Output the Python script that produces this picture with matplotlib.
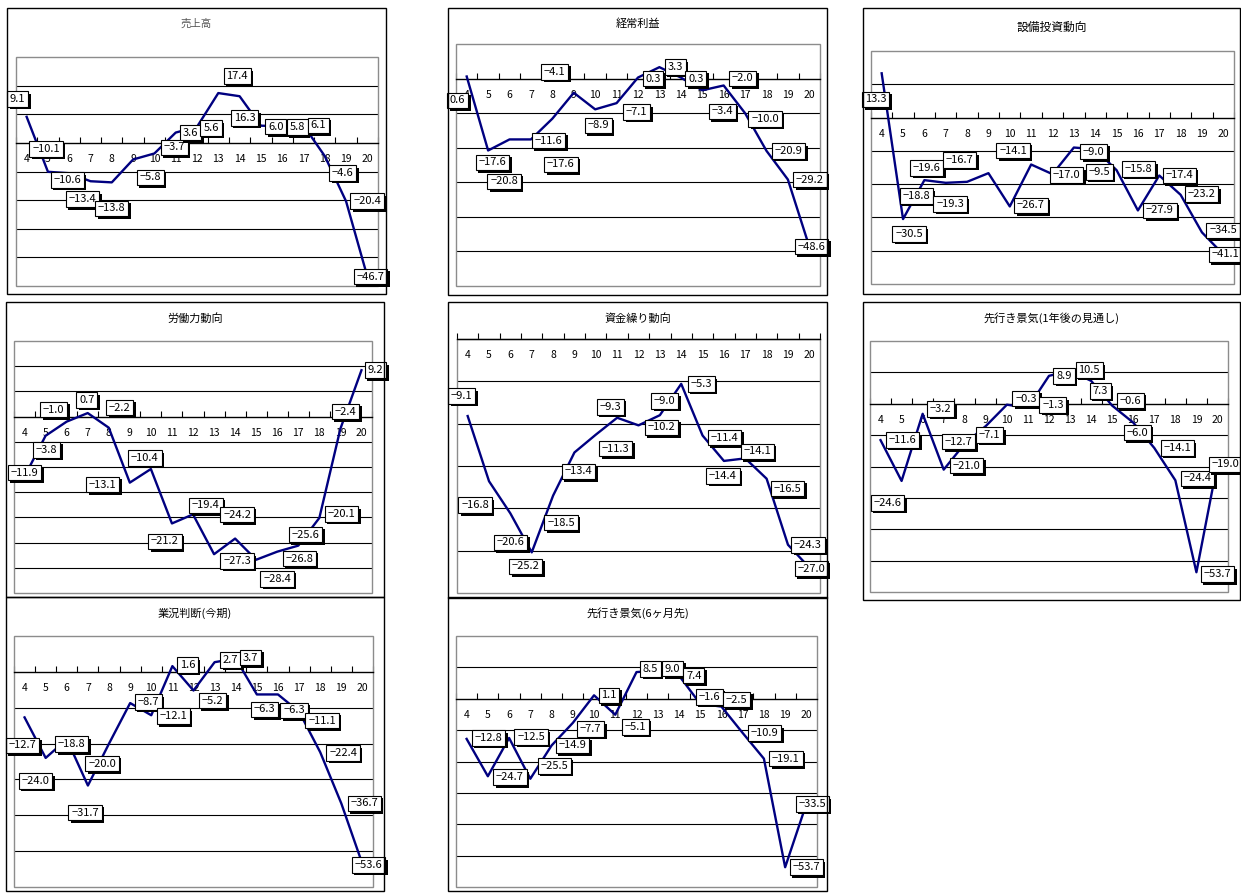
import numpy as np
import matplotlib
matplotlib.use("Agg")
import matplotlib.pyplot as plt
import matplotlib.patheffects as pe
from matplotlib.patches import Rectangle

plt.rcParams["font.family"] = ["Noto Sans CJK JP", "DejaVu Sans"]

# ---- data -------------------------------------------------------------
months = list(range(4, 21))
month_labels = [str(m) for m in months]

titles = ["売上高", "経常利益", "設備投資動向",
          "労働力動向", "資金繰り動向", "先行き景気(1年後の見通し)",
          "業況判断(今期)", "先行き景気(6ヶ月先)"]

sales = [9.1, -10.1, -10.6, -13.4, -13.8, -5.8, -3.7, 3.6, 5.6, 17.4, 16.3,
         6.0, 5.8, 6.1, -4.6, -20.4, -46.7]
ordinary_profit = [0.6, -20.8, -17.6, -17.6, -11.6, -4.1, -8.9, -7.1, 0.3, 3.3,
                   0.3, -3.4, -2.0, -10.0, -20.9, -29.2, -48.6]
capex = [13.3, -30.5, -18.8, -19.6, -19.3, -16.7, -26.7, -14.1, -17.0, -9.0,
         -9.5, -15.8, -27.9, -17.4, -23.2, -34.5, -41.1]
labor = [-11.9, -3.8, -1.0, 0.7, -2.2, -13.1, -10.4, -21.2, -19.4, -27.3,
         -24.2, -28.4, -26.8, -25.6, -20.1, -2.4, 9.2]
cash_flow = [-9.1, -16.8, -20.6, -25.2, -18.5, -13.4, -11.3, -9.3, -10.2, -9.0,
             -5.3, -11.4, -14.4, -14.1, -16.5, -24.3, -27.0]
outlook_1y = [-11.6, -24.6, -3.2, -21.0, -12.7, -7.1, -0.3, -1.3, 8.9, 10.5,
              7.3, -0.6, -6.0, -14.1, -24.4, -53.7, -19.0]
business_now = [-12.7, -24.0, -18.8, -31.7, -20.0, -8.7, -12.1, 1.6, -5.2, 2.7,
                3.7, -6.3, -6.3, -11.1, -22.4, -36.7, -53.6]
outlook_6m = [-12.8, -24.7, -12.5, -25.5, -14.9, -7.7, 1.1, -5.1, 8.5, 9.0,
              7.4, -1.6, -2.5, -10.9, -19.1, -53.7, -33.5]

series = [sales, ordinary_profit, capex, labor, cash_flow, outlook_1y,
          business_now, outlook_6m]

# ---- layout (pixels, origin top-left) --------------------------------
W, H = 1241, 893
frames = [(7, 8, 386, 294), (448, 8, 827, 295), (863, 8, 1240, 294),
          (6, 302, 384, 597), (448, 302, 827, 598), (863, 302, 1240, 600),
          (6, 597, 384, 891), (448, 597, 827, 891)]
plots = [(16, 57, 378, 286), (456, 44, 820, 286), (871, 51, 1234, 284),
         (14, 341, 372, 593), (457, 339, 820, 593), (870, 341, 1228, 592),
         (14, 636, 373, 887), (456, 636, 817, 887)]
title_y = [24, 24, 27, 318, 318, 318, 613, 613]
title_size = [7.5, 8, 8.5, 8, 8, 8, 8, 8]
title_color = ["#555555"] + ["black"] * 7
y_ranges = [(-50, 30, 10), (-60, 10, 10), (-50, 20, 10), (-35, 15, 5),
            (-30, 0, 5), (-60, 20, 10), (-60, 10, 10), (-60, 20, 10)]

# data-label placement, pixel offsets from each point
label_offsets = [
    [(-9, 18), (-2, 23), (-2, -7), (-8, -18), (0, -26), (17, -18), (20, 6),
     (15, 0), (14, -1), (19, 17), (5, -22), (15, -1), (15, -1), (15, 0),
     (18, -17), (21, 0), (3, 0)],
    [(-9, -24), (16, -31), (-17, -23), (30, -25), (-4, -22), (-19, 21),
     (3, -16), (20, -9), (15, -1), (16, 0), (15, -1), (20, -21), (19, 7),
     (20, -6), (22, 0), (22, 0), (2, 0)],
    [(-6, -26), (6, -15), (-8, -16), (-19, 15), (-17, -22), (-29, 13),
     (21, 1), (-18, 14), (14, -1), (20, -4), (4, -23), (22, 1), (22, 0),
     (20, 0), (21, 1), (21, 2), (2, 0)],
    [(0, 4), (1, -14), (-13, 12), (-1, 13), (11, 20), (-27, -2), (-6, 11),
     (-7, -18), (13, 9), (23, -7), (2, 24), (21, -19), (22, -7), (7, 11),
     (22, 4), (5, 17), (14, 0)],
    [(-6, 20), (-14, -24), (0, -29), (-6, -14), (8, -27), (4, -19), (20, -14),
     (-7, 11), (23, -2), (5, 14), (20, 0), (22, -2), (-1, -15), (12, 7),
     (21, -10), (20, 0), (2, -1)],
    [(22, 0), (-14, -22), (18, 5), (23, 4), (-6, 2), (4, -9), (19, 6),
     (25, 3), (15, 0), (19, 1), (9, -10), (18, 5), (4, -10), (23, 0),
     (22, 2), (21, -2), (8, -1)],
    [(-2, -28), (-10, -23), (5, -5), (-3, -27), (-7, -20), (18, 1), (22, -1),
     (15, 1), (19, -10), (16, 2), (15, 1), (8, -15), (16, -16), (23, -9),
     (23, -1), (23, 0), (6, -1)],
    [(22, 1), (22, -1), (22, 1), (24, 13), (21, 0), (18, -6), (15, 0),
     (20, -12), (14, 3), (15, 2), (15, 0), (9, 7), (15, 7), (22, 0),
     (22, 0), (21, 0), (6, 0)],
]


def fig_rect(box):
    x0, y0, x1, y1 = box
    return [x0 / W, 1 - y1 / H, (x1 - x0) / W, (y1 - y0) / H]


fig = plt.figure(figsize=(W / 100, H / 100), dpi=100)
fig.patch.set_facecolor("white")

for i, vals in enumerate(series):
    fx0, fy0, fx1, fy1 = frames[i]
    # outer chart frame
    fig.add_artist(Rectangle((fx0 / W, 1 - fy1 / H), (fx1 - fx0) / W,
                             (fy1 - fy0) / H, transform=fig.transFigure,
                             fill=False, ec="black", lw=1.0))
    fig.text((fx0 + fx1) / 2 / W, 1 - title_y[i] / H, titles[i],
             ha="center", va="center", fontsize=title_size[i],
             color=title_color[i])

    ax = fig.add_axes(fig_rect(plots[i]))
    lo, hi, step = y_ranges[i]
    ax.set_xlim(months[0] - 0.5, months[-1] + 0.5)
    ax.set_ylim(lo, hi)

    # plot-area border
    ax.add_patch(Rectangle((0, 0), 1, 1, transform=ax.transAxes, fill=False,
                           ec="#8c8c8c", lw=1.0, zorder=1, clip_on=False))
    for s in ("left", "right", "top"):
        ax.spines[s].set_visible(False)
    ax.spines["bottom"].set_position(("data", 0))
    ax.spines["bottom"].set_color("black")
    ax.spines["bottom"].set_linewidth(1.0)
    ax.spines["bottom"].set_zorder(2)

    grid_vals = [v for v in np.arange(lo + step, hi, step) if abs(v) > 1e-9]
    ax.set_yticks(grid_vals)
    ax.tick_params(axis="y", length=0, labelleft=False)
    ax.grid(axis="y", color="black", lw=0.8)
    ax.set_axisbelow(True)

    ax.set_xticks(months)
    ax.set_xticklabels(month_labels)
    ax.set_xticks(np.arange(months[0] - 0.5, months[-1] + 1.0, 1.0), minor=True)
    ax.tick_params(axis="x", which="major", length=0, pad=8, labelsize=7.5)
    ax.tick_params(axis="x", which="minor", direction="in", length=4,
                   width=0.8, color="black")

    ax.plot(months, vals, color="#000080", lw=1.7, zorder=3,
            solid_joinstyle="round", clip_on=False)

    for m, v, (dx, dy) in zip(months, vals, label_offsets[i]):
        t = ax.annotate(f"{v:.1f}".replace("-", "\u2212"), xy=(m, v),
                        xytext=(dx, dy), textcoords="offset pixels",
                        ha="center", va="center", fontsize=8, zorder=6,
                        annotation_clip=False,
                        bbox=dict(boxstyle="square,pad=0.25", fc="white",
                                  ec="black", lw=0.8))
        t.get_bbox_patch().set_path_effects(
            [pe.SimplePatchShadow(offset=(1.8, -1.8), shadow_rgbFace="black",
                                  alpha=1.0), pe.Normal()])

fig.savefig("out.png", dpi=100, facecolor="white")
